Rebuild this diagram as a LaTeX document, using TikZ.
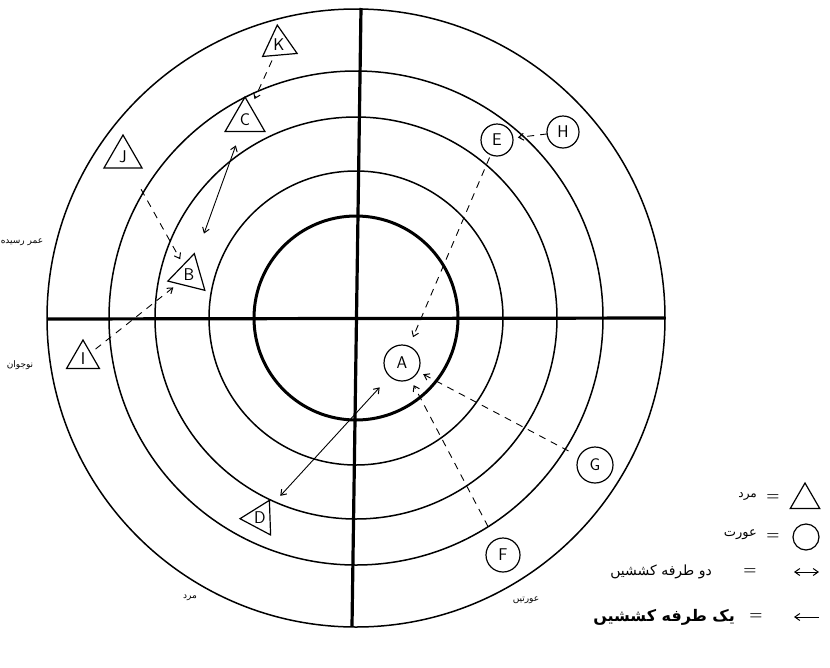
\documentclass[tikz,border=0pt]{standalone}
\usepackage{fontspec}
\usetikzlibrary{arrows.meta,shapes.geometric}
\TeXXeTstate=1
\newfontfamily\ur[Script=Arabic]{DejaVu Sans}
\begin{document}
\begin{tikzpicture}[x=1pt,y=-1pt,
  ring/.style={line width=1.5pt},
  thickring/.style={line width=3pt},
  axisline/.style={line width=3.2pt},
  tri/.style={draw, regular polygon, regular polygon sides=3, inner sep=0pt, line width=1.2pt, font=\sffamily\fontsize{17}{17}\selectfont},
  circ/.style={draw, circle, inner sep=0pt, line width=1.2pt, font=\sffamily\fontsize{17}{17}\selectfont},
  tip/.style={-{Straight Barb[length=5pt,width=7pt,line width=1pt]}},
  pull/.style={tip, line width=0.9pt, dash pattern=on 7pt off 6pt},
  mutual/.style={line width=0.9pt, {Straight Barb[length=5pt,width=7pt,line width=1pt]}-{Straight Barb[length=5pt,width=7pt,line width=1pt]}},
  ulabel/.style={inner sep=0pt, font=\ur\fontsize{9}{9}\selectfont},
  eqsign/.style={inner sep=0pt, font=\bfseries\fontsize{15}{15}\selectfont}
]
\useasboundingbox (0,0) rectangle (830,667);

% rings
\coordinate (O) at (356,318);
\draw[ring] (O) circle[radius=309];
\draw[ring] (O) circle[radius=247];
\draw[ring] (O) circle[radius=201];
\draw[ring] (O) circle[radius=147];
\draw[thickring] (O) circle[radius=102];

% axes
\coordinate (axL) at (47,319);
\coordinate (axR) at (665,318);
\coordinate (axT) at (361,8);
\coordinate (axB) at (352,626);
\draw[axisline] (axL) -- (axR);
\draw[axisline] (axT) -- (axB);

% men (triangles)
\node[tri, minimum size=40, regular polygon rotate=5] (K) at (279,45) {K};
\node[tri, minimum size=46] (C) at (245,120) {C};
\node[tri, minimum size=44] (J) at (123,157) {J};
\node[tri, minimum size=44, regular polygon rotate=-14] (B) at (189,275) {B};
\node[tri, minimum size=38] (I) at (83,359) {I};
\node[tri, minimum size=40, regular polygon rotate=92] (D) at (260,518) {D};

% women (circles)
\node[circ, minimum size=36] (A) at (402,363) {A};
\node[circ, minimum size=32] (E) at (497,140) {E};
\node[circ, minimum size=32] (H) at (563,132) {H};
\node[circ, minimum size=36] (G) at (595,465) {G};
\node[circ, minimum size=34] (F) at (503,555) {F};

% one-way attractions
\draw[pull, shorten <=17pt, shorten >=23pt] (K.center) -- (C.center);
\draw[pull, shorten <=37pt, shorten >=18pt] (J.center) -- (B.center);
\draw[pull, shorten <=16pt, shorten >=20pt] (I.center) -- (B.center);
\draw[pull, shorten <=16pt, shorten >=21pt] (H.center) -- (E.center);
\draw[pull, shorten <=19pt, shorten >=28pt] (E.center) -- (A.center);
\draw[pull, shorten <=30pt, shorten >=24pt] (G.center) -- (A.center);
\draw[pull, shorten <=32pt, shorten >=25pt] (F.center) -- (A.center);

% two-way attractions
\draw[mutual, shorten <=27pt, shorten >=44pt] (C.center) -- (B.center);
\draw[mutual, shorten <=33pt, shorten >=30pt] (A.center) -- (D.center);

% side labels
\node[ulabel] (elder) at (22,242) {\beginR عمر رسیده\endR};
\node[ulabel] (young) at (20,365) {\beginR نوجوان\endR};
\node[ulabel] (men) at (190,598) {\beginR مرد\endR};
\node[ulabel] (women) at (526,600) {\beginR عورتیں\endR};

% legend
\node[draw, regular polygon, regular polygon sides=3, minimum size=34, inner sep=0pt, line width=1.2pt] (legtri) at (805,500) {};
\node[eqsign] (eq1) at (773,498) {=};
\node[inner sep=0pt, anchor=east, font=\ur\fontsize{12}{12}\selectfont] (legmen) at (757,496) {\beginR مرد\endR};

\node[draw, circle, minimum size=26, inner sep=0pt, line width=1.2pt] (legcirc) at (806,537) {};
\node[eqsign] (eq2) at (773,537) {=};
\node[inner sep=0pt, anchor=east, font=\ur\fontsize{13}{13}\selectfont] (legwomen) at (757,535) {\beginR عورت\endR};

\coordinate (l3a) at (794,572);
\coordinate (l3b) at (819,572);
\draw[mutual, line width=0.8pt] (l3a) -- (l3b);
\node[eqsign] (eq3) at (750,572) {=};
\node[inner sep=0pt, anchor=east, font=\ur\fontsize{14}{14}\selectfont] (legtwo) at (712,572) {\beginR دو طرفه کششیں\endR};

\coordinate (l4a) at (819,617);
\coordinate (l4b) at (794,617);
\draw[tip, line width=0.8pt] (l4a) -- (l4b);
\node[eqsign] (eq4) at (756,617) {=};
\node[inner sep=0pt, anchor=east, font=\ur\bfseries\fontsize{16}{16}\selectfont] (legone) at (735,617) {\beginR یک طرفه کششیں\endR};
\end{tikzpicture}
\end{document}
